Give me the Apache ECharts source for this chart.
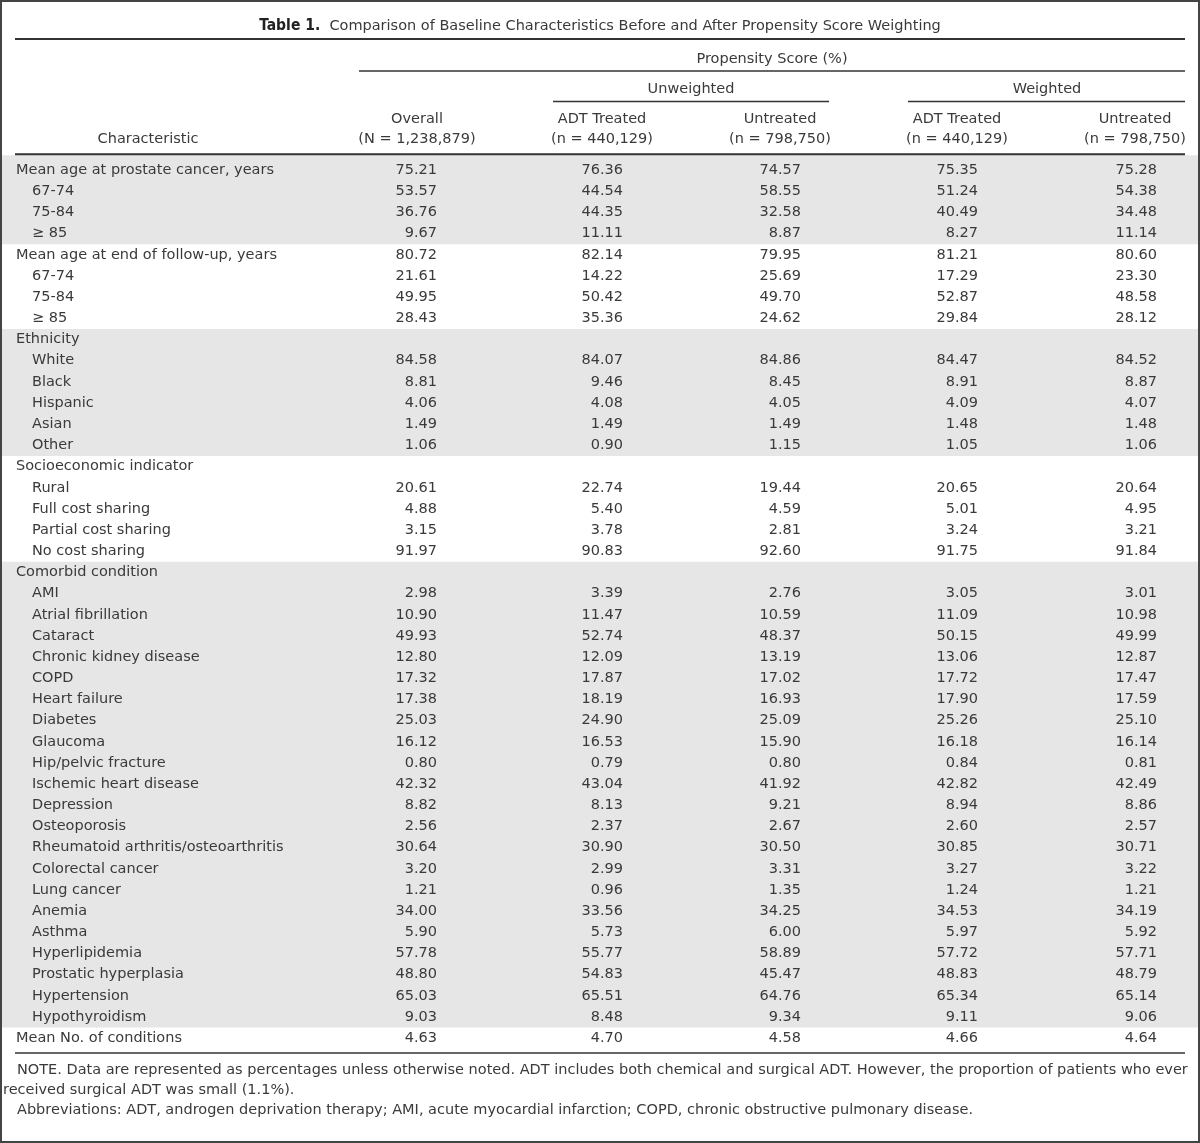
<!DOCTYPE html>
<html>
<head>
<meta charset="utf-8">
<script src="https://cdn.jsdelivr.net/npm/echarts@6/dist/echarts.min.js"></script>
<style>html,body{margin:0;padding:0;background:#fff}#c{width:1200px;height:1143px}</style>
</head>
<body>
<div id="c"></div>
<script>
// ---------- DATA ----------
const titleBold = "Table 1.";
const titleText = "Comparison of Baseline Characteristics Before and After Propensity Score Weighting";
const spanHeader = "Propensity Score (%)";
const groupHeaders = ["Unweighted", "Weighted"];
const charHeader = "Characteristic";
const colHeaders = [
  ["Overall", "(N = 1,238,879)"],
  ["ADT Treated", "(n = 440,129)"],
  ["Untreated", "(n = 798,750)"],
  ["ADT Treated", "(n = 440,129)"],
  ["Untreated", "(n = 798,750)"]
];
const rowLabels = [
  "Mean age at prostate cancer, years", "67-74", "75-84", "\u2265 85",
  "Mean age at end of follow-up, years", "67-74", "75-84", "\u2265 85",
  "Ethnicity", "White", "Black", "Hispanic", "Asian", "Other",
  "Socioeconomic indicator", "Rural", "Full cost sharing", "Partial cost sharing", "No cost sharing",
  "Comorbid condition", "AMI", "Atrial fibrillation", "Cataract", "Chronic kidney disease", "COPD",
  "Heart failure", "Diabetes", "Glaucoma", "Hip/pelvic fracture", "Ischemic heart disease", "Depression",
  "Osteoporosis", "Rheumatoid arthritis/osteoarthritis", "Colorectal cancer", "Lung cancer", "Anemia",
  "Asthma", "Hyperlipidemia", "Prostatic hyperplasia", "Hypertension", "Hypothyroidism",
  "Mean No. of conditions"
];
// group sizes (row blocks); the first row of a multi-row block is its heading
const groupSizes = [4, 4, 6, 5, 22, 1];
const overall = [75.21,53.57,36.76,9.67,80.72,21.61,49.95,28.43,null,84.58,8.81,4.06,1.49,1.06,null,20.61,4.88,3.15,91.97,null,2.98,10.90,49.93,12.80,17.32,17.38,25.03,16.12,0.80,42.32,8.82,2.56,30.64,3.20,1.21,34.00,5.90,57.78,48.80,65.03,9.03,4.63];
const unwAdt  = [76.36,44.54,44.35,11.11,82.14,14.22,50.42,35.36,null,84.07,9.46,4.08,1.49,0.90,null,22.74,5.40,3.78,90.83,null,3.39,11.47,52.74,12.09,17.87,18.19,24.90,16.53,0.79,43.04,8.13,2.37,30.90,2.99,0.96,33.56,5.73,55.77,54.83,65.51,8.48,4.70];
const unwUntr = [74.57,58.55,32.58,8.87,79.95,25.69,49.70,24.62,null,84.86,8.45,4.05,1.49,1.15,null,19.44,4.59,2.81,92.60,null,2.76,10.59,48.37,13.19,17.02,16.93,25.09,15.90,0.80,41.92,9.21,2.67,30.50,3.31,1.35,34.25,6.00,58.89,45.47,64.76,9.34,4.58];
const wAdt    = [75.35,51.24,40.49,8.27,81.21,17.29,52.87,29.84,null,84.47,8.91,4.09,1.48,1.05,null,20.65,5.01,3.24,91.75,null,3.05,11.09,50.15,13.06,17.72,17.90,25.26,16.18,0.84,42.82,8.94,2.60,30.85,3.27,1.24,34.53,5.97,57.72,48.83,65.34,9.11,4.66];
const wUntr   = [75.28,54.38,34.48,11.14,80.60,23.30,48.58,28.12,null,84.52,8.87,4.07,1.48,1.06,null,20.64,4.95,3.21,91.84,null,3.01,10.98,49.99,12.87,17.47,17.59,25.10,16.14,0.81,42.49,8.86,2.57,30.71,3.22,1.21,34.19,5.92,57.71,48.79,65.14,9.06,4.64];
const noteLines = [
  "NOTE. Data are represented as percentages unless otherwise noted. ADT includes both chemical and surgical ADT. However, the proportion of patients who ever",
  "received surgical ADT was small (1.1%).",
  "Abbreviations: ADT, androgen deprivation therapy; AMI, acute myocardial infarction; COPD, chronic obstructive pulmonary disease."
];

// ---------- LAYOUT / STYLE ----------
const L = {
  W: 1200, H: 1143,
  gridTop: 159.6, rowH: 21.17,
  labelX: 16, indentX: 32,
  colRight: [437, 623, 801, 978, 1157],
  colCenter: [417, 602, 780, 957, 1135],
  charCenter: 148,
  tableLeft: 15, tableRight: 1185,
  font: '"DejaVu Sans", sans-serif',
  fontSize: 14.5,
  text: '#3a3a3a', line: '#333333', shade: '#e6e6e6'
};
const valueCols = [overall, unwAdt, unwUntr, wAdt, wUntr];

// derived row structure
const subRow = [], shadedGroups = [];
(function () {
  let r = 0;
  groupSizes.forEach((n, g) => {
    if (g % 2 === 0) shadedGroups.push([0, r, r + n - 1]);
    for (let k = 0; k < n; k++) {
      subRow[r] = (n > 1 && k > 0);
      r++;
    }
  });
})();

const chart = echarts.init(document.getElementById('c'), null, { renderer: 'canvas' });

const txt = (text, x, y, align, extra) => Object.assign({
  type: 'text', z: 20, silent: true,
  style: {
    text, x, y,
    align, verticalAlign: 'middle', textAlign: align, textVerticalAlign: 'middle',
    fill: L.text, fontSize: L.fontSize, fontFamily: L.font
  }
}, extra || {});
const hline = (x1, x2, y, w) => ({
  type: 'line', z: 20, silent: true,
  shape: { x1, y1: y, x2, y2: y },
  style: { stroke: L.line, lineWidth: w }
});

const graphics = [
  {
    type: 'text', z: 20, silent: true,
    style: {
      text: '{b|' + titleBold + '}  ' + titleText,
      x: 600, y: 26, align: 'center', verticalAlign: 'middle', textAlign: 'center', textVerticalAlign: 'middle',
      fill: L.text, fontSize: L.fontSize, fontFamily: L.font,
      rich: { b: { fontFamily: '"DejaVu Sans Condensed", "DejaVu Sans", sans-serif', fontWeight: 'bold', fontSize: 15.5, fill: '#222' } }
    }
  },
  hline(L.tableLeft, L.tableRight, 39, 2),
  txt(spanHeader, (359 + L.tableRight) / 2, 59, 'center'),
  hline(359, L.tableRight, 71, 1.5),
  txt(groupHeaders[0], 691, 89, 'center'),
  txt(groupHeaders[1], 1047, 89, 'center'),
  hline(553, 829, 101.5, 1.5),
  hline(908, L.tableRight, 101.5, 1.5),
  txt(charHeader, L.charCenter, 139.5, 'center'),
  hline(L.tableLeft, L.tableRight, 154.3, 2),
  { type: 'rect', z: 1, silent: true, shape: { x: 0, y: 155.3, width: L.W, height: L.gridTop - 155.3 + 0.5 }, style: { fill: L.shade } },
  hline(L.tableLeft, L.tableRight, 1053, 1.5),
  txt(noteLines[0], 17, 1070, 'left'),
  txt(noteLines[1], 3, 1090, 'left'),
  txt(noteLines[2], 17, 1110, 'left'),
  { type: 'rect', z: 30, silent: true, shape: { x: 1, y: 1, width: L.W - 2, height: L.H - 2 }, style: { fill: 'transparent', stroke: '#444', lineWidth: 2 } }
];
colHeaders.forEach((h, c) => {
  graphics.push(txt(h[0], L.colCenter[c], 119.5, 'center'));
  graphics.push(txt(h[1], L.colCenter[c], 139.5, 'center'));
});

const labelStyle = { color: L.text, fontSize: L.fontSize, fontFamily: L.font, opacity: 1 };

const series = [
  {
    type: 'custom', silent: true, z: 1,
    data: shadedGroups,
    encode: { x: 0, y: 1 },
    renderItem: (params, api) => {
      const band = api.size([0, 1])[1];
      const p0 = api.coord([0, api.value(1)]);
      const p1 = api.coord([L.W, api.value(2)]);
      return {
        type: 'rect',
        shape: { x: p0[0], y: p0[1] - band / 2, width: p1[0] - p0[0], height: p1[1] - p0[1] + band },
        style: { fill: L.shade }
      };
    }
  },
  {
    type: 'scatter', silent: true, symbolSize: 0, z: 5,
    itemStyle: { opacity: 1 },
    data: rowLabels.map((t, i) => [subRow[i] ? L.indentX : L.labelX, i]),
    label: Object.assign({ show: true, position: 'right', distance: 0, formatter: p => rowLabels[p.dataIndex] }, labelStyle)
  }
];
valueCols.forEach((vals, c) => {
  const data = [];
  vals.forEach((v, i) => { if (v != null) data.push([L.colRight[c], i, v]); });
  series.push({
    type: 'scatter', silent: true, symbolSize: 0, z: 5,
    itemStyle: { opacity: 1 },
    data,
    label: Object.assign({ show: true, position: 'left', distance: 0, formatter: p => p.value[2].toFixed(2) }, labelStyle)
  });
});

chart.setOption({
  animation: false,
  backgroundColor: '#ffffff',
  grid: { left: 0, right: 0, top: L.gridTop, height: L.rowH * rowLabels.length },
  xAxis: { type: 'value', min: 0, max: L.W, show: false },
  yAxis: { type: 'category', inverse: true, show: false, data: rowLabels.map((_, i) => String(i)) },
  graphic: { elements: graphics },
  series
});
</script>
</body>
</html>
